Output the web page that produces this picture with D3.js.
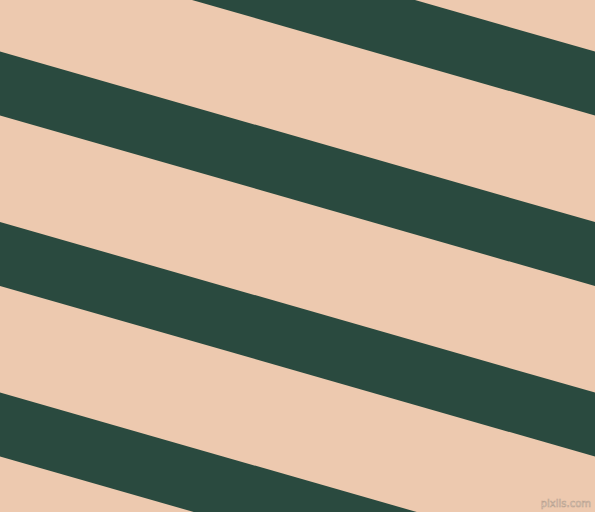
<!DOCTYPE html>
<html lang="en">
<head>
    <meta charset="UTF-8">
    <title>Stripes</title>
    <script src="https://d3js.org/d3.v7.min.js"></script>
    <style>
        body { margin: 0; background: #EDC9AF; }
        svg { display: block; }
    </style>
</head>
<body>
    <svg id="chart"></svg>
    <script>
        // stripe data (band index along the perpendicular, in periods)
        var bands = [0, 1, 2, 3];
        var darkShare = 0.375;      // share of one period that is dark
        var angle = 16;             // degrees, stripes fall to the right
        var sand = "#EDC9AF",
            green = "#2A4A3F";

        var width = 595, height = 512;
        var rad = angle * Math.PI / 180;

        var svg = d3.select("#chart")
            .attr("width", width)
            .attr("height", height);

        svg.append("rect")
            .attr("width", width)
            .attr("height", height)
            .attr("fill", sand);

        // perpendicular scale: period units -> px in the rotated frame
        var v = d3.scaleLinear()
            .domain([0, 1])
            .range([-119 * Math.cos(rad), (-119 + 170.5) * Math.cos(rad)]);

        var g = svg.append("g")
            .attr("transform", "rotate(" + angle + ")");

        g.selectAll(".band")
            .data(bands)
            .enter().append("rect")
            .attr("class", "band")
            .attr("x", -300)
            .attr("width", 1200)
            .attr("y", function(d) { return v(d); })
            .attr("height", function(d) { return v(d + darkShare) - v(d); })
            .attr("fill", green);

        svg.append("text")
            .attr("x", width - 4)
            .attr("y", height - 5)
            .attr("text-anchor", "end")
            .attr("font-family", "DejaVu Sans, sans-serif")
            .attr("font-size", 10)
            .attr("fill", "#f6e4d6")
            .attr("stroke", "#b9a18f")
            .attr("stroke-width", 0.6)
            .text("pixlis.com");
    </script>
</body>
</html>
